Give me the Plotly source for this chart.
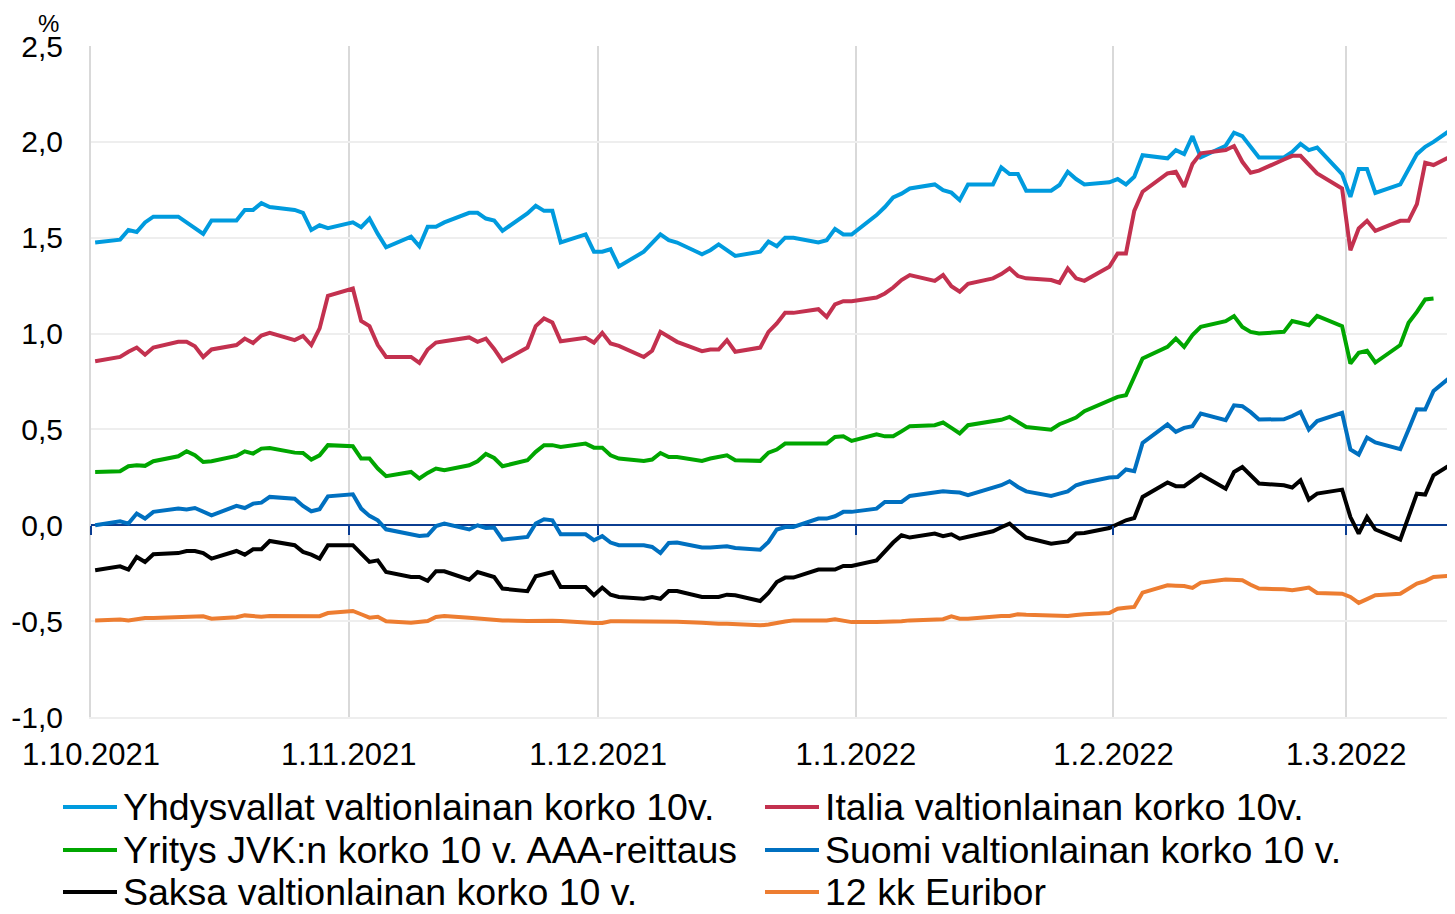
import pandas as pd
import plotly.graph_objects as go

# Päivittäiset havainnot (arkipäivät) 1.10.2021 - 14.3.2022
dates = pd.bdate_range("2021-10-01", "2022-03-14")

names = [
    "Yhdysvallat valtionlainan korko 10v.",
    "Italia valtionlainan korko 10v.",
    "Yritys JVK:n korko 10 v. AAA-reittaus",
    "Suomi valtionlainan korko 10 v.",
    "Saksa valtionlainan korko 10 v.",
    "12 kk Euribor",
]

us_10y = (
    [1.475, 1.49, 1.54, 1.53, 1.58, 1.61, 1.61, 1.58, 1.55, 1.52, 1.59,
     1.59, 1.645, 1.645, 1.68, 1.66, 1.645, 1.63, 1.54, 1.565, 1.55]
    + [1.58, 1.555, 1.60, 1.52, 1.45, 1.505, 1.455, 1.557, 1.557, 1.58,
       1.63, 1.63, 1.60, 1.59, 1.536, 1.627, 1.667, 1.64, 1.64, 1.475, 1.517, 1.427]
    + [1.427, 1.44, 1.35, 1.427, 1.47, 1.517, 1.487, 1.475, 1.414, 1.435, 1.465,
       1.435, 1.405, 1.427, 1.48, 1.456, 1.50, 1.50, 1.475, 1.487, 1.546, 1.517, 1.517]
    + [1.618, 1.66, 1.71, 1.73, 1.757, 1.778, 1.748, 1.735, 1.696, 1.778,
       1.778, 1.867, 1.832, 1.832, 1.745, 1.745, 1.775, 1.844, 1.806, 1.778, 1.789]
    + [1.806, 1.778, 1.818, 1.93, 1.914, 1.957, 1.936, 2.03, 1.919, 1.98,
       2.048, 2.03, 1.971, 1.919, 1.919, 1.948, 1.989, 1.957, 1.97, 1.832]
    + [1.713, 1.858, 1.858, 1.734, 1.778, 1.862, 1.936, 1.974, 2.0, 2.09]
)

italy_10y = (
    [0.856, 0.878, 0.905, 0.927, 0.89, 0.927, 0.957, 0.957, 0.934, 0.878, 0.917,
     0.94, 0.974, 0.951, 0.99, 1.004, 0.966, 0.988, 0.94, 1.027, 1.197]
    + [1.235, 1.066, 1.039, 0.94, 0.878, 0.878, 0.847, 0.917, 0.953, 0.96,
       0.98, 0.957, 0.974, 0.92, 0.856, 0.927, 1.039, 1.079, 1.058, 0.96, 0.978, 0.953]
    + [1.004, 0.948, 0.936, 0.878, 0.91, 1.009, 0.98, 0.957, 0.908, 0.917, 0.917,
       0.966, 0.905, 0.927, 1.009, 1.053, 1.108, 1.108, 1.127, 1.087, 1.152, 1.169, 1.169]
    + [1.188, 1.209, 1.24, 1.279, 1.305, 1.275, 1.305, 1.247, 1.218, 1.26,
       1.288, 1.31, 1.34, 1.30, 1.288, 1.279, 1.265, 1.34, 1.288, 1.275, 1.348]
    + [1.418, 1.418, 1.64, 1.74, 1.835, 1.844, 1.766, 1.884, 1.94, 1.957,
       1.978, 1.896, 1.839, 1.85, 1.908, 1.927, 1.927, 1.879, 1.835, 1.757]
    + [1.435, 1.548, 1.588, 1.536, 1.588, 1.588, 1.675, 1.891, 1.879, 1.944]
)

corp_aaa_10y = (
    [0.278, 0.282, 0.308, 0.313, 0.31, 0.334, 0.36, 0.386, 0.365, 0.33, 0.334,
     0.362, 0.386, 0.374, 0.40, 0.403, 0.379, 0.377, 0.343, 0.365, 0.418]
    + [0.412, 0.348, 0.348, 0.296, 0.256, 0.278, 0.244, 0.273, 0.296, 0.287,
       0.313, 0.334, 0.372, 0.351, 0.308, 0.339, 0.383, 0.418, 0.418, 0.409, 0.426, 0.405]
    + [0.405, 0.365, 0.348, 0.336, 0.343, 0.377, 0.356, 0.356, 0.336, 0.348, 0.356,
       0.365, 0.339, 0.336, 0.379, 0.395, 0.426, 0.426, 0.426, 0.426, 0.461, 0.464, 0.44]
    + [0.475, 0.464, 0.464, 0.49, 0.517, 0.522, 0.536, 0.508, 0.479, 0.522,
       0.54, 0.55, 0.565, 0.541, 0.513, 0.499, 0.527, 0.544, 0.562, 0.595, 0.649]
    + [0.67, 0.678, 0.771, 0.87, 0.931, 0.974, 0.931, 0.992, 1.035, 1.065,
       1.091, 1.035, 1.009, 1.0, 1.009, 1.065, 1.055, 1.044, 1.092, 1.039]
    + [0.844, 0.90, 0.91, 0.849, 0.94, 1.056, 1.113, 1.178, 1.183, None]
)

finland_10y = (
    [0.0, 0.021, 0.009, 0.061, 0.035, 0.07, 0.087, 0.082, 0.09, 0.07, 0.052,
     0.101, 0.09, 0.113, 0.118, 0.148, 0.139, 0.101, 0.073, 0.084, 0.151]
    + [0.162, 0.087, 0.049, 0.026, -0.021, -0.045, -0.056, -0.052, -0.004, 0.009,
       -0.022, 0.0, -0.014, -0.012, -0.075, -0.061, 0.009, 0.031, 0.026, -0.047, -0.047, -0.078]
    + [-0.057, -0.09, -0.104, -0.104, -0.113, -0.145, -0.092, -0.09, -0.116, -0.116, -0.113,
       -0.11, -0.118, -0.127, -0.087, -0.022, -0.009, -0.009, 0.035, 0.035, 0.047, 0.07, 0.07]
    + [0.087, 0.122, 0.122, 0.122, 0.153, 0.17, 0.177, 0.174, 0.171, 0.157,
       0.195, 0.209, 0.23, 0.2, 0.177, 0.153, 0.165, 0.177, 0.209, 0.222, 0.249]
    + [0.252, 0.291, 0.282, 0.43, 0.526, 0.487, 0.508, 0.517, 0.583, 0.548,
       0.626, 0.621, 0.59, 0.552, 0.553, 0.57, 0.591, 0.499, 0.544, 0.586]
    + [0.395, 0.369, 0.458, 0.432, 0.397, 0.50, 0.605, 0.604, 0.701, 0.807]
)

germany_10y = (
    [-0.235, -0.214, -0.231, -0.165, -0.191, -0.151, -0.145, -0.134, -0.134, -0.145, -0.174,
     -0.134, -0.153, -0.125, -0.125, -0.082, -0.104, -0.139, -0.153, -0.174, -0.104]
    + [-0.104, -0.148, -0.191, -0.183, -0.244, -0.27, -0.27, -0.29, -0.24, -0.24,
       -0.284, -0.244, -0.257, -0.27, -0.33, -0.344, -0.266, -0.255, -0.244, -0.322, -0.322, -0.365]
    + [-0.325, -0.362, -0.374, -0.383, -0.374, -0.383, -0.343, -0.343, -0.374, -0.374, -0.374,
       -0.362, -0.365, -0.395, -0.353, -0.296, -0.273, -0.273, -0.231, -0.231, -0.231, -0.212, -0.212]
    + [-0.183, -0.134, -0.09, -0.052, -0.064, -0.043, -0.057, -0.047, -0.07, -0.06,
       -0.031, -0.01, 0.009, -0.03, -0.064, -0.096, -0.09, -0.084, -0.043, -0.04, -0.014]
    + [0.005, 0.026, 0.038, 0.148, 0.223, 0.204, 0.204, 0.235, 0.265, 0.191,
       0.278, 0.304, 0.26, 0.218, 0.209, 0.197, 0.235, 0.134, 0.165, 0.186]
    + [0.043, -0.043, 0.043, -0.022, -0.075, 0.05, 0.165, 0.16, 0.261, 0.341]
)

euribor_12m = (
    [-0.496, -0.492, -0.496, -0.49, -0.484, -0.484, -0.48, -0.478, -0.475, -0.475, -0.487,
     -0.48, -0.47, -0.472, -0.477, -0.473, -0.474, -0.474, -0.474, -0.474, -0.458]
    + [-0.447, -0.464, -0.482, -0.477, -0.501, -0.508, -0.505, -0.499, -0.478, -0.473,
       -0.482, -0.486, -0.49, -0.493, -0.496, -0.499, -0.497, -0.496, -0.498, -0.499, -0.51, -0.51]
    + [-0.51, -0.501, -0.501, -0.501, -0.501, -0.501, -0.501, -0.503, -0.508, -0.513, -0.513,
       -0.513, -0.516, -0.522, -0.517, -0.508, -0.502, -0.496, -0.496, -0.496, -0.49, -0.498, -0.505]
    + [-0.505, -0.505, -0.505, -0.5, -0.496, -0.493, -0.49, -0.475, -0.487, -0.487,
       -0.473, -0.473, -0.473, -0.464, -0.467, -0.47, -0.472, -0.473, -0.468, -0.464, -0.458]
    + [-0.435, -0.43, -0.426, -0.351, -0.313, -0.315, -0.317, -0.327, -0.299, -0.283,
       -0.285, -0.287, -0.31, -0.33, -0.334, -0.339, -0.332, -0.325, -0.353, -0.357]
    + [-0.374, -0.405, -0.385, -0.365, -0.357, -0.33, -0.304, -0.291, -0.27, -0.26]
)

series = [us_10y, italy_10y, corp_aaa_10y, finland_10y, germany_10y, euribor_12m]
colors = ["#009BDE", "#C3314F", "#00A600", "#0070C0", "#000000", "#ED7D31"]

month_ticks = ["2021-10-01", "2021-11-01", "2021-12-01", "2022-01-01", "2022-02-01", "2022-03-01"]
month_labels = ["1.10.2021", "1.11.2021", "1.12.2021", "1.1.2022", "1.2.2022", "1.3.2022"]
y_ticks = [-1.0, -0.5, 0.0, 0.5, 1.0, 1.5, 2.0, 2.5]
y_labels = ["-1,0", "-0,5", "0,0", "0,5", "1,0", "1,5", "2,0", "2,5"]

for s in series:
    assert len(s) == len(dates), len(s)

NAVY = "#0B3D91"
FONT = "Liberation Sans, Arial, sans-serif"

# Sivun body-marginaali (8 px) siirtää kuvaa, joten kuva tehdään sen verran pienempänä
PAGE = 8
W, H = 1455 - PAGE, 914 - PAGE
# Plot-alueen rajat kuvan pikseleinä
L, T = 91 - PAGE, 46 - PAGE
R, B = 0, H - (717 - PAGE)
PW, PH = W - L - R, H - T - B


def px_x(px):
    # ruudun pikseli -> paper-koordinaatti
    return (px - PAGE - L) / PW


def px_y(py):
    return (H - B - (py - PAGE)) / PH


# Excel piirtää päivän arvon päivän keskelle
x = dates + pd.Timedelta(hours=12)

fig = go.Figure()
for name, values, color in zip(names, series, colors):
    fig.add_trace(go.Scatter(x=x, y=values, mode="lines", name=name,
                             line=dict(color=color, width=4),
                             showlegend=False, hoverinfo="x+y+name"))

# apuakseli: kuukausiväkäset nollaviivalle
fig.add_trace(go.Scatter(x=x[:1], y=[None], xaxis="x2", showlegend=False, hoverinfo="skip"))

fig.update_layout(
    width=W, height=H,
    margin=dict(l=L, r=R, t=T, b=B),
    plot_bgcolor="white", paper_bgcolor="white",
    font=dict(family=FONT, color="black"),
    showlegend=False,
    xaxis=dict(type="date", range=["2021-10-01", "2022-03-14 02:00"],
               tickvals=month_ticks, ticktext=month_labels,
               showgrid=True, gridcolor="#D9D9D9", gridwidth=2,
               showline=True, linecolor="#EEEEEE", linewidth=2,
               ticks="", tickfont=dict(size=31), ticklabelstandoff=9,
               zeroline=False),
    xaxis2=dict(type="date", overlaying="x", matches="x", anchor="free",
                position=1 / 3.5, tickvals=month_ticks,
                ticks="outside", ticklen=9, tickwidth=2, tickcolor=NAVY,
                showticklabels=False, showgrid=False, zeroline=False, showline=False),
    yaxis=dict(range=[-1, 2.5], tickvals=y_ticks, ticktext=y_labels,
               showgrid=True, gridcolor="#EEEEEE", gridwidth=2,
               showline=True, linecolor="#D9D9D9", linewidth=2,
               zeroline=True, zerolinecolor=NAVY, zerolinewidth=2,
               ticks="", tickfont=dict(size=30), ticklabelstandoff=20),
)

# yksikkö
fig.add_annotation(text="%", x=px_x(48), y=px_y(23), xref="paper", yref="paper",
                   showarrow=False, font=dict(size=24), xanchor="center", yanchor="middle",
                   borderpad=0)

# selite kahdessa sarakkeessa
col_line = [(63, 117), (765, 819)]
col_text = [122, 824]
row_y = [807, 850, 892]
for i, (name, color) in enumerate(zip(names, colors)):
    col, row = i % 2, i // 2
    x0, x1 = col_line[col]
    fig.add_shape(type="line", xref="paper", yref="paper",
                  x0=px_x(x0), x1=px_x(x1), y0=px_y(row_y[row]), y1=px_y(row_y[row]),
                  line=dict(color=color, width=4))
    fig.add_annotation(text=name, x=px_x(col_text[col]), y=px_y(row_y[row]),
                       xref="paper", yref="paper", showarrow=False,
                       font=dict(size=37.5), xanchor="left", yanchor="middle", borderpad=0)

fig.write_html("out.html")
